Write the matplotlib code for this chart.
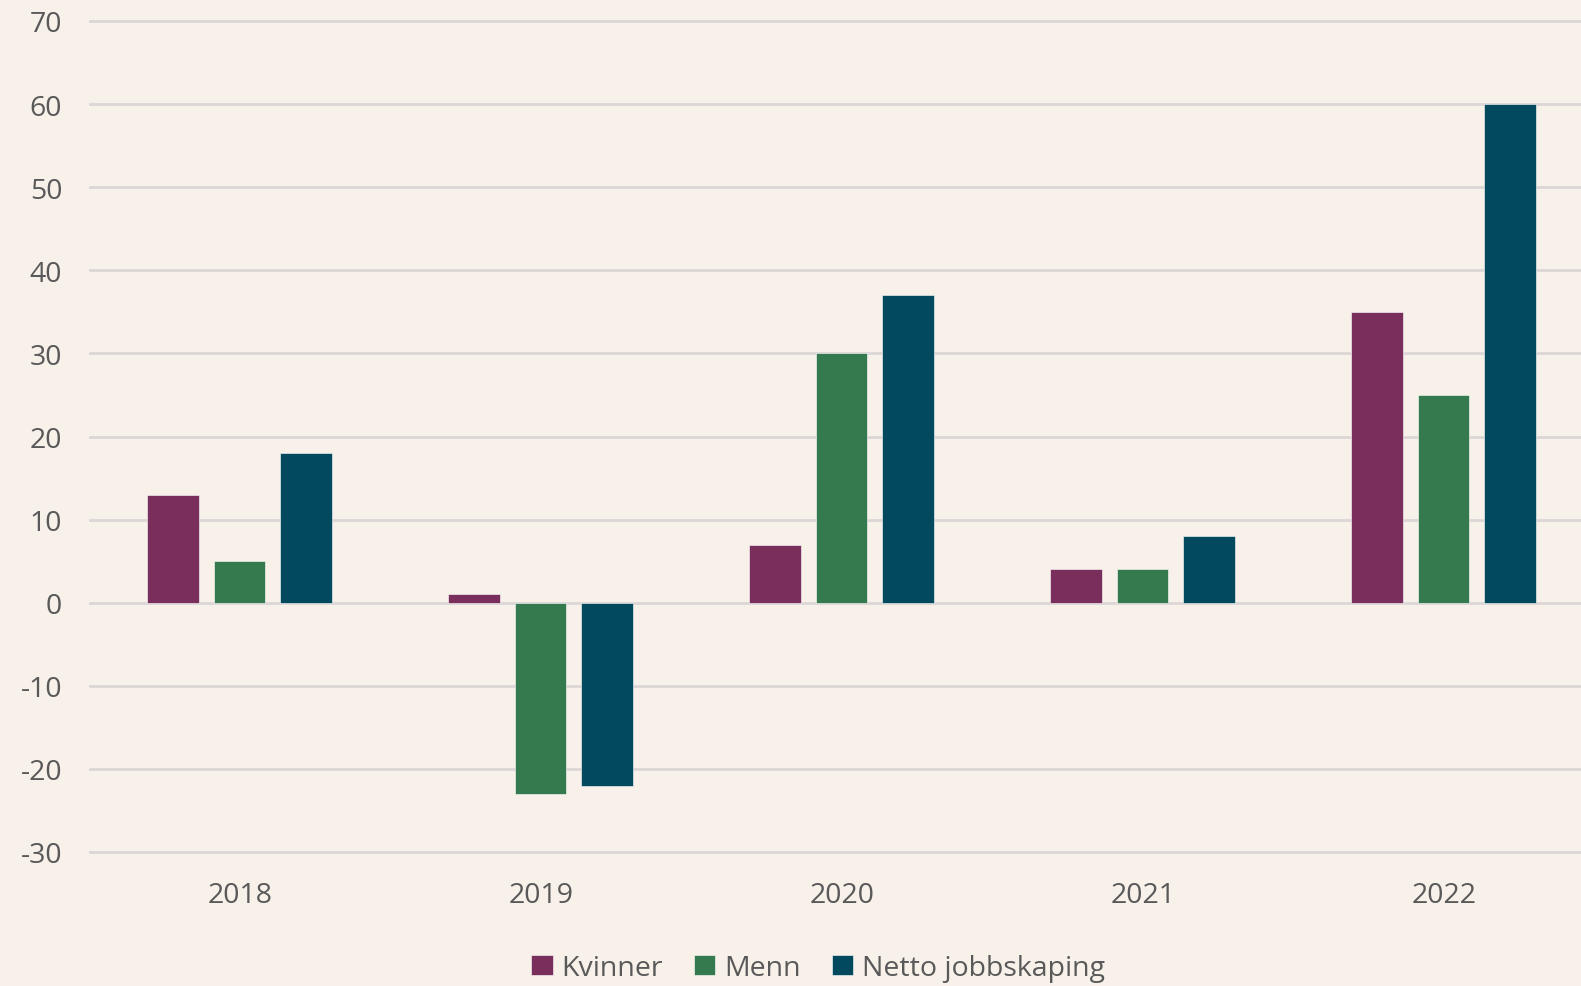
import matplotlib
matplotlib.use("Agg")
import matplotlib.pyplot as plt
import numpy as np

years = ["2018", "2019", "2020", "2021", "2022"]
series_names = ["Kvinner", "Menn", "Netto jobbskaping"]
kvinner = [13, 1, 7, 4, 35]
menn = [5, -23, 30, 4, 25]
netto = [18, -22, 37, 8, 60]
yticks = [-30, -20, -10, 0, 10, 20, 30, 40, 50, 60, 70]

colors = ["#7A2E5B", "#357A4F", "#02495D"]
bg = "#F8F1EA"
textc = "#595959"
gridc = "#DDD6D6"

plt.rcParams["font.family"] = ["Open Sans", "DejaVu Sans"]

fig = plt.figure(figsize=(15.81, 9.87), dpi=100, facecolor=bg)
ax = fig.add_axes([90/1581, 1-853/987, 1505/1581, (853-22)/987])
ax.set_facecolor(bg)

x = np.arange(len(years))
width = 0.171
step = 0.221
for i, (vals, name, c) in enumerate(zip([kvinner, menn, netto], series_names, colors)):
    ax.bar(x + (i-1)*step - 0.004, vals, width, color=c, label=name, zorder=3,
           edgecolor="white", linewidth=0.4)

ax.set_xlim(-0.5, len(years)-0.5)
ax.set_ylim(-30, 70)
ax.set_yticks(yticks)
ax.set_yticklabels([str(v) for v in yticks])
ax.set_xticks(x)
ax.set_xticklabels(years)
ax.grid(axis="y", color=gridc, linewidth=2, zorder=0)
for gl in ax.get_ygridlines():
    gl.set_clip_on(False)
for s in ax.spines.values():
    s.set_visible(False)
ax.tick_params(axis="both", length=0, colors=textc, labelsize=20.5)
ax.tick_params(axis="y", pad=20)
ax.tick_params(axis="x", pad=21)

handles, labels = ax.get_legend_handles_labels()
leg = fig.legend(handles, labels, loc="center", bbox_to_anchor=(818/1581, 1-969/987),
                 ncol=3, frameon=False, fontsize=20.5, handlelength=0.75, handleheight=0.75,
                 handletextpad=0.3, columnspacing=1.1, labelcolor=textc)

fig.savefig("out.png", dpi=100, facecolor=bg)
